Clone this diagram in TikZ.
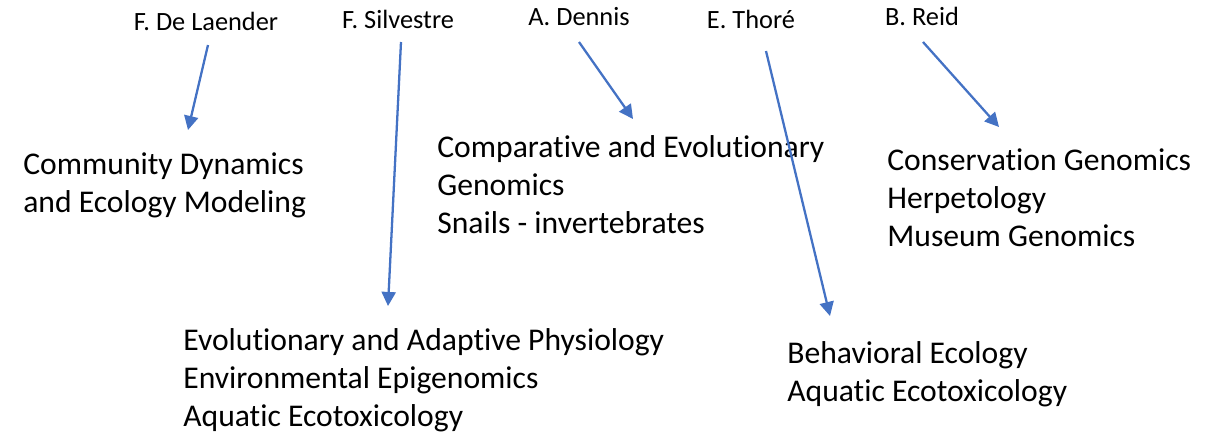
\documentclass[tikz,border=0pt]{standalone}
\usepackage{fontspec}
\setmainfont{Carlito}[Ligatures={NoCommon}]
\usepackage{xcolor}
\usetikzlibrary{arrows.meta}
\definecolor{linkblue}{HTML}{4472C4}
\tikzset{
  person/.style={inner sep=0pt, anchor=base, font=\fontsize{15}{18}\selectfont},
  topic/.style={inner sep=0pt, anchor=base west, align=left, font=\fontsize{18}{21.5}\selectfont},
  link/.style={linkblue, line width=1.3pt, -{Triangle[length=8pt,width=8pt]}}
}

\begin{document}
\begin{tikzpicture}[x=0.02cm, y=-0.02cm]
\useasboundingbox (0,0) rectangle (1221,433);

% names on top
\node[person] (laender) at (206,30) {F. De Laender};
\node[person] (silvestre) at (398,28) {F. Silvestre};
\node[person] (dennis) at (579,25) {A. Dennis};
\node[person] (thore) at (751,28.5) {E. Thoré};
\node[person] (reid) at (922,25) {B. Reid};

% research topics (placed at baseline of last line)
\node[topic] (community) at (23,212) {Community Dynamics\\and Ecology Modeling};
\node[topic] (genomics) at (437,233) {Comparative and Evolutionary\\Genomics\\Snails - invertebrates};
\node[topic] (conservation) at (887,246) {Conservation Genomics\\Herpetology\\Museum Genomics};
\node[topic] (physiology) at (183,426) {Evolutionary and Adaptive Physiology\\Environmental Epigenomics\\Aquatic Ecotoxicology};
\node[topic] (behaviour) at (787,401) {Behavioral Ecology\\Aquatic Ecotoxicology};

% arrow ends
\coordinate (laender_out) at (208,45);
\coordinate (laender_in) at (188,130);
\coordinate (silvestre_out) at (401,42);
\coordinate (silvestre_in) at (388,306);
\coordinate (dennis_out) at (579,42);
\coordinate (dennis_in) at (633,119);
\coordinate (thore_out) at (766,51);
\coordinate (thore_in) at (830,316);
\coordinate (reid_out) at (923,42);
\coordinate (reid_in) at (999,127);

\draw[link] (laender_out) -- (laender_in);
\draw[link] (silvestre_out) -- (silvestre_in);
\draw[link] (dennis_out) -- (dennis_in);
\draw[link] (thore_out) -- (thore_in);
\draw[link] (reid_out) -- (reid_in);

\end{tikzpicture}
\end{document}
